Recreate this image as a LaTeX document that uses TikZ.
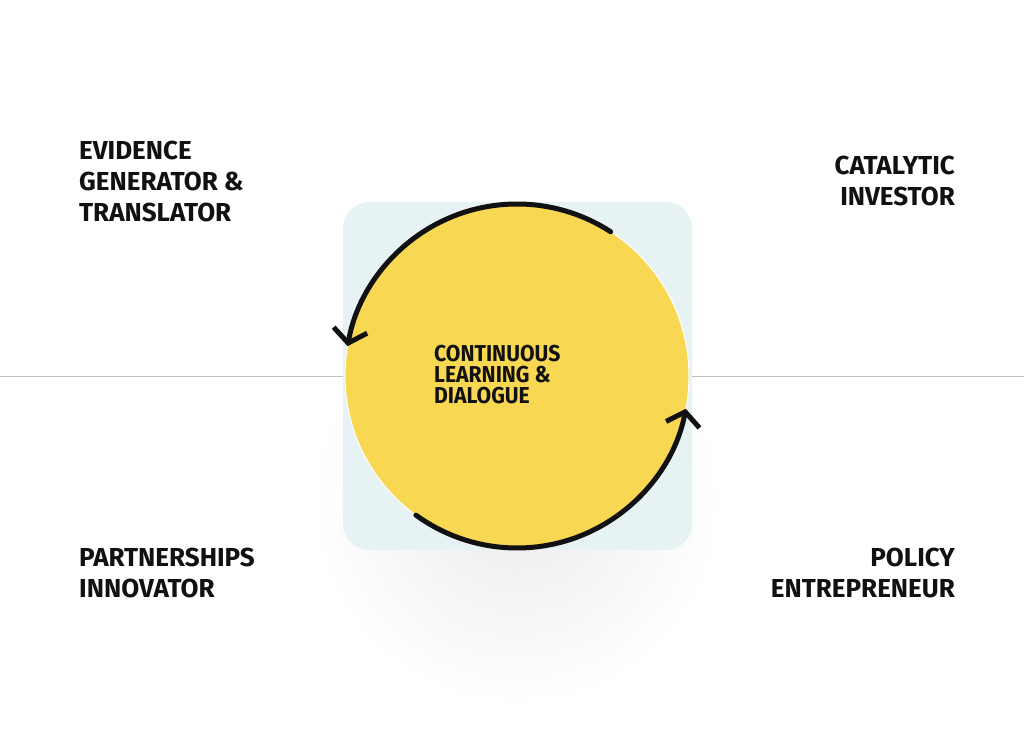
\documentclass[tikz,border=0pt]{standalone}
\usepackage{fontspec}
\setmainfont{Fira Sans}
\usetikzlibrary{arrows.meta}
\definecolor{ylw}{HTML}{F8D752}
\definecolor{pale}{HTML}{E7F2F5}
\definecolor{ink}{HTML}{111111}
\tikzset{
  role/.style={font=\fontsize{26}{31}\selectfont\bfseries, text=ink, inner sep=0pt},
  cyc/.style={line width=5pt, ink, line cap=round, -{Straight Barb[length=13pt,width=34pt,line width=5pt]}}
}
\begin{document}
\begin{tikzpicture}[x=1pt,y=1pt]
\useasboundingbox (0,0) rectangle (1024,751);
\fill[white] (0,0) rectangle (1024,751);
\foreach \r in {200,190,...,60}
  \fill[black,opacity=0.004] (517,250) circle (\r);
\draw[gray!50, line width=0.8pt] (0,375) -- (1024,375);
\node[fill=pale, rounded corners=26pt, minimum width=349pt, minimum height=348pt, inner sep=0pt] (sq) at (517.5,375) {};
\node[circle, fill=ylw, draw=white, line width=1pt, minimum size=344pt, inner sep=0pt] (c) at (517,375) {};
\draw[cyc] (c.center) ++(57:172) arc (57:170:172);
\draw[cyc] (c.center) ++(234:172) arc (234:349:172);
\node[font=\fontsize{23}{21}\selectfont\bfseries, text=ink, align=left, inner sep=0pt, anchor=north west] (ct) at (434,406) {\scalebox{0.92}[1]{CONTINUOUS}\\\scalebox{0.92}[1]{LEARNING \&}\\\scalebox{0.92}[1]{DIALOGUE}};
\node[role, align=left, anchor=north west] (e) at (79,610) {EVIDENCE\\GENERATOR \&\\TRANSLATOR};
\node[role, align=right, anchor=north east] (ci) at (955,595) {CATALYTIC\\INVESTOR};
\node[role, align=left, anchor=north west] (p) at (79,203) {PARTNERSHIPS\\INNOVATOR};
\node[role, align=right, anchor=north east] (pe) at (955,203) {POLICY\\ENTREPRENEUR};
\end{tikzpicture}
\end{document}
